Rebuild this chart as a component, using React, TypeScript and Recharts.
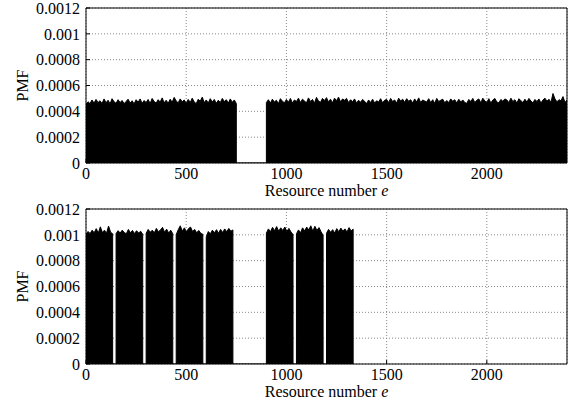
import React from "react";
import { AreaChart, Area, XAxis, YAxis, CartesianGrid, Label } from "recharts";

// PMF values are in units of 1e-6, sampled every ~10 resources
const xTicks = [0, 500, 1000, 1500, 2000];
const yTicks = [0, 0.0002, 0.0004, 0.0006, 0.0008, 0.001, 0.0012];

const topRanges = [
  [0, 750],
  [900, 2400],
];

const topA = [
  456, 474, 460, 488, 464, 492, 468, 482, 460, 496,
  466, 486, 458, 498, 474, 462, 490, 468, 484, 460,
  476, 494, 464, 482, 458, 490, 470, 496, 462, 484,
  468, 492, 460, 500, 476, 464, 490, 472, 504, 466,
  486, 462, 494, 470, 508, 480, 466, 496, 474, 488,
  462, 492, 468, 502, 472, 460, 494, 478, 510, 468,
  488, 464, 498, 472, 492, 462, 486, 468, 500, 476,
  490, 464, 496, 470, 488, 460,
];

const topB = [
  468, 490, 464, 494, 472, 486, 460, 498, 478, 466,
  492, 470, 500, 464, 488, 476, 502, 468, 494, 480,
  466, 504, 476, 492, 464, 508, 480, 470, 500, 484,
  506, 472, 494, 466, 502, 482, 510, 474, 496, 486,
  500, 468, 490, 474, 496, 464, 486, 470, 492, 478,
  460, 488, 468, 494, 464, 482, 472, 498, 466, 486,
  492, 468, 500, 476, 488, 464, 502, 480, 494, 470,
  498, 478, 490, 464, 496, 472, 504, 468, 488, 480,
  472, 498, 468, 490, 462, 500, 476, 486, 494, 466,
  484, 468, 496, 478, 490, 464, 494, 472, 488, 468,
  462, 492, 476, 500, 468, 486, 496, 466, 502, 480,
  470, 498, 464, 488, 500, 472, 466, 492, 478, 496,
  488, 468, 502, 476, 490, 464, 498, 482, 468, 494,
  472, 500, 480, 466, 492, 476, 496, 464, 488, 502,
  478, 494, 468, 538, 496, 474, 490, 482, 514, 468,
  488,
];

const bottomRanges = [
  [0, 133],
  [150, 283],
  [300, 433],
  [450, 583],
  [600, 733],
  [900, 1033],
  [1050, 1183],
  [1200, 1333],
];

const bottomBlocks = [
  [1006, 1026, 1010, 1036, 1016, 1048, 1014, 1062, 1018, 1036, 1012, 1068, 1020, 1008],
  [1010, 1032, 1014, 1036, 1018, 1008, 1042, 1016, 1034, 1010, 1032, 1014, 1028, 1004],
  [1012, 1042, 1020, 1036, 1016, 1050, 1024, 1038, 1058, 1020, 1044, 1014, 1036, 1008],
  [1002, 1040, 1070, 1028, 1054, 1022, 1048, 1060, 1026, 1042, 1016, 1034, 1012, 1004],
  [984, 1026, 1008, 1036, 1016, 1040, 1012, 1042, 1018, 1046, 1024, 1050, 1028, 1038],
  [1014, 1046, 1024, 1058, 1032, 1064, 1028, 1054, 1034, 1060, 1026, 1050, 1022, 1002],
  [1008, 1038, 1016, 1054, 1030, 1060, 1038, 1070, 1028, 1066, 1034, 1056, 1024, 996],
  [1012, 1042, 1020, 1040, 1014, 1048, 1024, 1052, 1028, 1046, 1022, 1056, 1030, 1044],
];

type Pt = { e: number; pmf: number };

function buildSeries(ranges: number[][], values: number[][]): Pt[] {
  const pts: Pt[] = [];
  ranges.forEach(([from, to], k) => {
    const vals = values[k];
    const step = (to - from) / (vals.length - 1);
    pts.push({ e: from, pmf: 0 });
    vals.forEach((v, i) => pts.push({ e: from + i * step, pmf: v / 1e6 }));
    pts.push({ e: to, pmf: 0 });
  });
  return pts;
}

const topData = buildSeries(topRanges, [topA, topB]);
const bottomData = buildSeries(bottomRanges, bottomBlocks);

const font = "'Times New Roman', 'Liberation Serif', 'DejaVu Serif', serif";

const XLabel = (props: any) => {
  const vb = props.viewBox;
  return (
    <text x={vb.x + vb.width / 2} y={vb.y + 33} textAnchor="middle" style={{ fontFamily: font, fontSize: 16 }} fill="#000">
      Resource number <tspan fontStyle="italic">e</tspan>
    </text>
  );
};

const YLabel = (props: any) => {
  const vb = props.viewBox;
  const cy = vb.y + vb.height / 2;
  const x = vb.x + 28;
  return (
    <text x={x} y={cy} transform={`rotate(-90 ${x} ${cy})`} textAnchor="middle" style={{ fontFamily: font, fontSize: 16 }} fill="#000">
      PMF
    </text>
  );
};

function Panel({ data, height, top, xHeight }: { data: Pt[]; height: number; top: number; xHeight: number }) {
  const tickStyle = { fill: "#000", fontSize: 16, fontFamily: font, style: { fontFamily: font } };
  return (
    <AreaChart width={576} height={height} data={data} margin={{ top, right: 8, left: 0, bottom: 0 }}>
      <CartesianGrid stroke="#888" strokeDasharray="1 2" />
      <XAxis
        dataKey="e"
        type="number"
        domain={[0, 2400]}
        ticks={xTicks}
        interval={0}
        allowDataOverflow
        height={xHeight}
        tickSize={-4}
        tickMargin={9}
        stroke="#000"
        tick={tickStyle}
      >
        <Label content={XLabel} />
      </XAxis>
      <XAxis
        xAxisId="t"
        orientation="top"
        type="number"
        domain={[0, 2400]}
        ticks={xTicks}
        interval={0}
        height={1}
        tickSize={-4}
        tick={false}
        stroke="#000"
      />
      <YAxis
        type="number"
        domain={[0, 0.0012]}
        ticks={yTicks}
        interval={0}
        allowDataOverflow
        width={86}
        tickSize={-4}
        tickMargin={10}
        stroke="#000"
        tick={tickStyle}
      >
        <Label content={YLabel} />
      </YAxis>
      <YAxis
        yAxisId="r"
        orientation="right"
        type="number"
        domain={[0, 0.0012]}
        ticks={yTicks}
        interval={0}
        width={1}
        tickSize={-4}
        tick={false}
        stroke="#000"
      />
      <Area
        type="linear"
        dataKey="pmf"
        stroke="#000"
        strokeWidth={1}
        fill="#000"
        fillOpacity={1}
        dot={false}
        activeDot={false}
        isAnimationActive={false}
      />
    </AreaChart>
  );
}

export default function App() {
  return (
    <div style={{ position: "absolute", left: 0, top: 0, width: 576, height: 407, background: "#fff", fontFamily: font }}>
      <Panel data={topData} height={200} top={7} xHeight={37} />
      <Panel data={bottomData} height={207} top={8} xHeight={43} />
    </div>
  );
}
